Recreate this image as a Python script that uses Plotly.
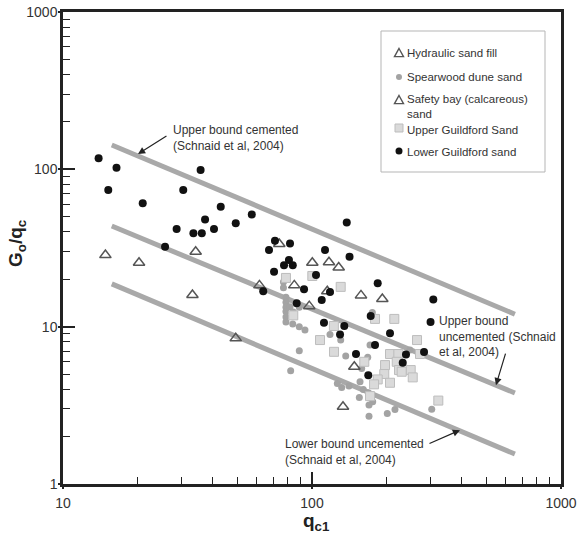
import math
import plotly.graph_objects as go

# ---- data -------------------------------------------------------------
# Hydraulic sand fill (open triangles)
hyd_qc1 = [14.8, 20.2, 34.1, 33.1, 49.4]
hyd_g0qc = [28.5, 25.5, 29.9, 15.9, 8.43]

# Spearwood dune sand (grey dots)
spw_qc1 = [76.8, 76.8, 78.6, 78.6, 78.6, 78.6, 78.6, 78.6, 83.7, 88.9, 93.7,
           81.6, 84.1, 88.9, 174.7, 130.4, 118.1, 171.0, 88.9, 136.6, 167.4,
           247.5, 158.3, 82.1, 126.4, 131.6, 140.8, 155.9, 160.7, 168.3,
           154.9, 175.3, 169.4, 169.4, 200.6, 215.4, 302.6]
spw_g0qc = [19.2, 17.7, 15.4, 14.3, 13.3, 12.5, 11.5, 10.7, 10.4, 9.99, 9.51,
            13.4, 12.4, 13.3, 12.3, 8.22, 8.93, 7.64, 7.03, 6.50, 6.38,
            7.10, 5.43, 5.24, 4.36, 4.11, 4.19, 4.46, 3.99, 3.80,
            3.55, 3.33, 3.18, 2.70, 2.81, 2.98, 2.99]

# Safety bay (calcareous) sand (open triangles)
sfb_qc1 = [61.5, 73.9, 84.9, 97.5, 100.3, 117.0, 128.0, 115.2, 157.3, 191.6,
           147.9, 133.2]
sfb_g0qc = [18.3, 33.5, 18.3, 13.5, 25.5, 25.7, 23.8, 16.8, 15.8, 15.0,
            5.56, 3.10]

# Upper Guildford Sand (light grey squares)
ugs_qc1 = [100.3, 78.6, 130.4, 84.1, 122.4, 179.1, 214.1, 107.7, 264.1, 122.6,
           205.7, 222.2, 271.5, 196.5, 218.9, 162.2, 223.6, 249.1, 253.8,
           195.1, 183.6, 205.7, 177.5, 171.0, 321.6, 229.2]
ugs_g0qc = [21.0, 20.4, 17.9, 11.8, 10.1, 11.2, 11.2, 8.22, 8.22, 6.92,
            6.70, 6.70, 6.70, 5.70, 5.98, 5.98, 5.30, 5.30, 4.76,
            5.00, 4.62, 4.40, 4.30, 3.62, 3.39, 5.17]

# Lower Guildford sand (black dots)
lgs_qc1 = [13.9, 16.4, 15.2, 20.9, 30.4, 35.7, 43.0, 37.2, 57.3, 49.4, 28.6,
           40.4, 33.4, 36.1, 25.7, 137.9, 71.0, 81.6, 67.2, 112.8, 141.5,
           80.8, 77.2, 83.7, 70.4, 103.8, 63.7, 92.9, 118.1, 109.4, 86.8,
           111.7, 134.8, 172.1, 299.3, 129.6, 205.7, 179.1, 150.2, 238.5,
           281.8, 231.4, 168.3, 183.6, 307.0]
lgs_g0qc = [117.5, 102.4, 73.8, 60.8, 73.8, 99.0, 57.8, 48.0, 51.7, 45.4, 41.8,
            41.7, 39.2, 39.2, 32.2, 46.0, 35.2, 33.8, 30.7, 30.7, 27.8,
            26.5, 24.6, 24.6, 22.3, 21.3, 16.8, 17.3, 16.6, 14.8, 14.1,
            10.6, 10.1, 11.7, 10.7, 8.93, 9.07, 7.64, 6.70, 6.65,
            6.89, 5.89, 4.92, 18.9, 14.9]

# Schnaid et al. (2004) bounds
bound_qc1 = [15.7, 653]
upper_cemented = [142.7, 12.0]
upper_uncemented = [43.6, 3.79]
lower_uncemented = [18.7, 1.55]

legend_labels = ["Hydraulic sand fill", "Spearwood dune sand",
                 "Safety bay (calcareous)<br>sand", "Upper Guildford Sand",
                 "Lower Guildford sand"]

FONT = "Liberation Sans, Arial, sans-serif"
TEXT = "#333333"
BOUND = "#a9a9a9"
W, H = 585, 539
ML, MR, MT, MB = 63, 24, 12, 55
PW, PH = W - ML - MR, H - MT - MB


def px(x):
    """page pixel column -> paper fraction"""
    return (x - ML) / PW


def py(y):
    """page pixel row -> paper fraction"""
    return (H - MB - y) / PH


fig = go.Figure()

for ys in (upper_cemented, upper_uncemented, lower_uncemented):
    fig.add_trace(go.Scatter(x=bound_qc1, y=ys, mode="lines",
                             line=dict(color=BOUND, width=5),
                             showlegend=False, hoverinfo="skip"))

TRI_C = "#555555"
tri = dict(symbol="triangle-up-open", size=10, color=TRI_C,
           line=dict(width=1.5, color=TRI_C))
SPW = dict(symbol="circle", size=7, color="#a3a3a3")
UGS = dict(symbol="square", size=9, color="#dadada",
           line=dict(width=1, color="#bdbdbd"))
LGS = dict(symbol="circle", size=8, color="#111111")

series = [(hyd_qc1, hyd_g0qc, tri), (spw_qc1, spw_g0qc, SPW),
          (sfb_qc1, sfb_g0qc, tri), (ugs_qc1, ugs_g0qc, UGS),
          (lgs_qc1, lgs_g0qc, LGS)]
for (xs, ys, mk), name in zip(series, legend_labels):
    fig.add_trace(go.Scatter(x=xs, y=ys, mode="markers",
                             name=name.replace("<br>", " "), marker=mk,
                             showlegend=False))

# empty traces that carry the overlay axes used for the extra tick marks
for i in (2, 3):
    fig.add_trace(go.Scatter(x=[None], y=[None], xaxis=f"x{i}", yaxis=f"y{i}",
                             showlegend=False, hoverinfo="skip"))

# ---- legend box (drawn in page pixels) --------------------------------
shapes = [dict(type="rect", xref="paper", yref="paper",
               x0=px(381), x1=px(545), y0=py(172), y1=py(31),
               line=dict(color="#b5b5b5", width=1), fillcolor="white",
               layer="above")]
sym_x = 399
sym_rows = [53, 77, 100, 128, 151]
text_rows = [53, 77, 99, 130, 152]


def tri_path(cx, cy, s=4.5):
    pts = [(cx, cy - s), (cx + s, cy + s * 0.8), (cx - s, cy + s * 0.8)]
    return "M " + " L ".join(f"{px(a):.5f},{py(b):.5f}" for a, b in pts) + " Z"


for kind, cy in zip(["tri", "spw", "tri", "ugs", "lgs"], sym_rows):
    if kind == "tri":
        shapes.append(dict(type="path", xref="paper", yref="paper",
                           path=tri_path(sym_x, cy), layer="above",
                           line=dict(color=TRI_C, width=1.4)))
    elif kind == "spw":
        shapes.append(dict(type="circle", xref="paper", yref="paper",
                           x0=px(sym_x - 3), x1=px(sym_x + 3),
                           y0=py(cy + 3), y1=py(cy - 3), layer="above",
                           fillcolor="#a3a3a3", line=dict(width=0)))
    elif kind == "ugs":
        shapes.append(dict(type="rect", xref="paper", yref="paper",
                           x0=px(sym_x - 4), x1=px(sym_x + 4),
                           y0=py(cy + 4), y1=py(cy - 4), layer="above",
                           fillcolor="#dadada",
                           line=dict(width=1, color="#bdbdbd")))
    else:
        shapes.append(dict(type="circle", xref="paper", yref="paper",
                           x0=px(sym_x - 3.5), x1=px(sym_x + 3.5),
                           y0=py(cy + 3.5), y1=py(cy - 3.5), layer="above",
                           fillcolor="#111111", line=dict(width=0)))

for label, cy in zip(legend_labels, text_rows):
    fig.add_annotation(x=px(405), y=py(cy - 8), xref="paper", yref="paper",
                       text=label, showarrow=False, xanchor="left",
                       yanchor="top", align="left",
                       font=dict(family=FONT, size=11.5, color=TEXT))

# ---- labels for the bound lines (log axes take log10 positions) --------
notes = [
    (27.2, 158, "Upper bound cemented<br>(Schnaid et al, 2004)"),
    (319.0, 8.71, "Upper bound<br>uncemented (Schnaid<br>et al, 2004)"),
    (76.8, 1.595, "Lower bound uncemented<br>(Schnaid et al, 2004)"),
]
for x, y, t in notes:
    fig.add_annotation(x=math.log10(x), y=math.log10(y), xref="x", yref="y",
                       text=t, showarrow=False, xanchor="left", yanchor="middle",
                       align="left", font=dict(family=FONT, size=12, color=TEXT))

# arrows pointing at the bound lines
arrows = [(20.0, 125.1, 30, -19), (548, 4.25, 10, -33), (393, 2.20, -32, 14)]
for x, y, ax, ay in arrows:
    fig.add_annotation(x=math.log10(x), y=math.log10(y), xref="x", yref="y",
                       text="", showarrow=True,
                       ax=ax, ay=ay, arrowhead=2, arrowsize=1.2, arrowwidth=1.2,
                       arrowcolor="#222222")

# axis titles
TITLE_FONT = dict(family=FONT, size=19, color="#222222")
fig.add_annotation(x=px(17), y=py(244), xref="paper", yref="paper",
                   text="<b>G<sub>o</sub>/q<sub>c</sub></b>", textangle=-90,
                   showarrow=False, xanchor="center", yanchor="middle",
                   font=TITLE_FONT)
fig.add_annotation(x=px(316), y=py(522), xref="paper", yref="paper",
                   text="<b>q<sub>c1</sub></b>", showarrow=False,
                   xanchor="center", yanchor="middle", font=TITLE_FONT)

axis_common = dict(
    type="log", showgrid=False, zeroline=False, automargin=False,
    showline=True, linecolor="#222222", linewidth=2.5, mirror=True,
    ticks="inside", ticklen=12, tickwidth=1.8, tickcolor="#222222",
    dtick=1,
    tickfont=dict(family=FONT, size=14, color=TEXT),
)

# overlay axes: short minor ticks inside, short stubs of the decade ticks outside
overlay = dict(type="log", showgrid=False, zeroline=False, showline=False,
               showticklabels=False, tickcolor="#222222", automargin=False)
minor_ticks = dict(overlay, ticks="inside", ticklen=7, tickwidth=1.3, dtick="D1")
stub_ticks = dict(overlay, ticks="outside", ticklen=4, tickwidth=1.8, dtick=1)

fig.update_layout(
    width=W, height=H,
    margin=dict(l=ML, r=MR, t=MT, b=MB),
    paper_bgcolor="white", plot_bgcolor="white",
    font=dict(family=FONT, size=11, color=TEXT),
    showlegend=False,
    shapes=shapes,
    xaxis=dict(axis_common, range=[1, 3], ticklabelstandoff=4),
    yaxis=dict(axis_common, range=[0, 3]),
    xaxis2=dict(minor_ticks, range=[1, 3], overlaying="x", anchor="y2",
                side="bottom"),
    yaxis2=dict(minor_ticks, range=[0, 3], overlaying="y", anchor="x2",
                side="left"),
    xaxis3=dict(stub_ticks, range=[1, 3], overlaying="x", anchor="y3",
                side="bottom"),
    yaxis3=dict(stub_ticks, range=[0, 3], overlaying="y", anchor="x3",
                side="left"),
)

fig.write_html("out.html")
